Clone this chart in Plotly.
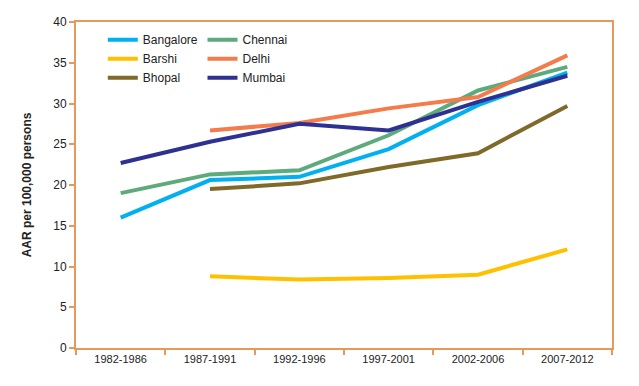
import plotly.graph_objects as go

periods = ["1982-1986", "1987-1991", "1992-1996", "1997-2001", "2002-2006", "2007-2012"]

bangalore = [16.0, 20.6, 21.0, 24.4, 29.8, 33.8]
barshi = [None, 8.8, 8.4, 8.6, 9.0, 12.1]
bhopal = [None, 19.5, 20.2, 22.2, 23.9, 29.7]
chennai = [19.0, 21.3, 21.8, 26.1, 31.6, 34.5]
delhi = [None, 26.7, 27.6, 29.4, 30.8, 35.9]
mumbai = [22.7, 25.3, 27.5, 26.7, 30.2, 33.4]

series = [
    ("Bangalore", bangalore, "#00B0F0", "legend"),
    ("Barshi", barshi, "#FFC000", "legend"),
    ("Bhopal", bhopal, "#7F6A2A", "legend"),
    ("Chennai", chennai, "#5DAA7C", "legend2"),
    ("Delhi", delhi, "#F47B4A", "legend2"),
    ("Mumbai", mumbai, "#2E3192", "legend2"),
]

fig = go.Figure()
for name, vals, color, leg in series:
    fig.add_trace(go.Scatter(
        x=periods, y=vals, name=name, mode="lines",
        line=dict(color=color, width=4),
        legend=leg, connectgaps=False,
    ))

frame = "#E59A5C"
font = dict(family="Liberation Sans, Arial, sans-serif", size=11, color="#222222")

fig.update_layout(
    width=639, height=386,
    margin=dict(l=68, r=35, t=14, b=46, autoexpand=False),
    plot_bgcolor="white", paper_bgcolor="white",
    font=font,
    showlegend=True,
    legend=dict(x=0.050, y=0.99, xanchor="left", yanchor="top",
                bgcolor="rgba(0,0,0,0)", font=dict(size=12, color="#222"),
                itemwidth=30, tracegroupgap=0),
    legend2=dict(x=0.236, y=0.99, xanchor="left", yanchor="top",
                 bgcolor="rgba(0,0,0,0)", font=dict(size=12, color="#222"),
                 itemwidth=30, tracegroupgap=0),
)
fig.update_xaxes(
    type="category", range=[-0.5, 5.5], tickson="boundaries", ticks="outside", ticklen=5,
    tickcolor=frame, tickwidth=1.5,
    showline=True, linecolor=frame, linewidth=2, mirror=True,
    showgrid=False, tickfont=dict(size=11, color="#222"),
)
fig.update_yaxes(
    range=[0, 40], dtick=5, ticks="outside", ticklen=5,
    tickcolor=frame, tickwidth=1.5,
    showline=True, linecolor=frame, linewidth=2, mirror=True,
    showgrid=False, zeroline=False,
    tickfont=dict(size=12, color="#222"),
    title=dict(text="<b>AAR per 100,000 persons</b>", font=dict(size=12, color="#222"), standoff=19),
)

fig.write_html("out.html")
